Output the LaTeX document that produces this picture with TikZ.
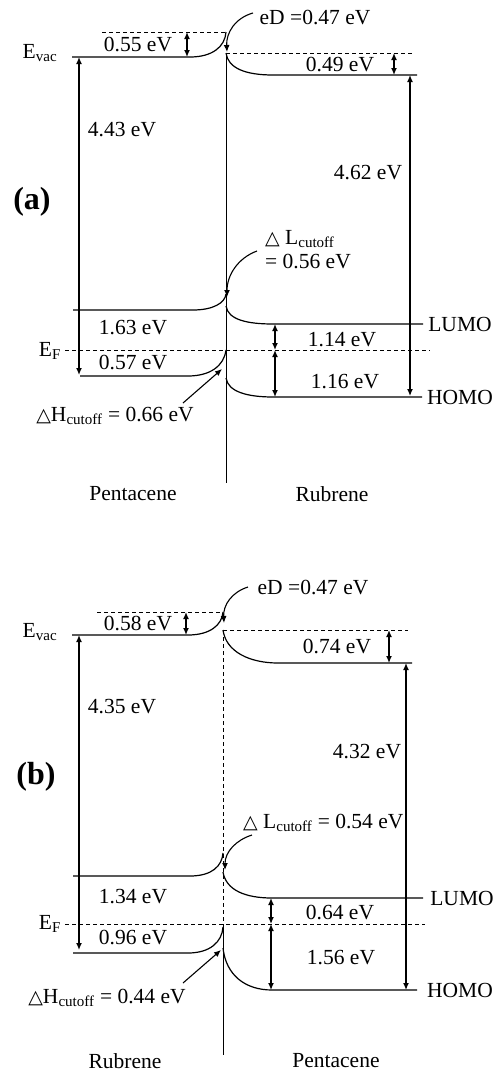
\documentclass[tikz,border=0pt]{standalone}
\usepackage{fontspec}
\setmainfont{Liberation Serif}
\newfontfamily\symfont{DejaVu Sans}
\usetikzlibrary{arrows.meta}
\newcommand{\tri}{{\symfont\fontsize{19}{21}\selectfont △}}
\begin{document}
\begin{tikzpicture}[x=1pt,y=-1pt,
  lbl/.style={font=\fontsize{21.5}{25}\selectfont, inner sep=0pt},
  band/.style={line width=1.2pt},
  ref/.style={line width=1pt, dash pattern=on 4pt off 3pt},
  iface/.style={line width=1pt},
  dbl/.style={line width=1.3pt, {Latex[length=7pt,width=6pt]}-{Latex[length=7pt,width=6pt]}},
  ptr/.style={line width=1.1pt, -{Latex[length=7pt,width=6pt]}},
  panel/.style={font=\fontsize{32}{36}\selectfont\bfseries, inner sep=0pt}]
\useasboundingbox (0,0) rectangle (493,1074);

% ================= panel (a) =================
\node[panel] (pa) at (32,202) {(a)};
% vacuum levels
\draw[ref] (102,32) -- (226,32);
\draw[band] (72,57) -- (190,57) .. controls (212,57) and (225,47) .. (226,32);
\draw[iface] (226,53) -- (226,483);
\draw[ref] (226,53) -- (413,53);
\draw[band] (226,53) .. controls (228,68) and (245,75) .. (273,75) -- (417,75);
\draw[dbl] (187,32) -- (187,57);
\draw[dbl] (394,53) -- (394,75);
\draw[dbl] (79,57) -- (79,375);
\draw[dbl] (410,75) -- (410,396);
% LUMO / HOMO
\draw[band] (73,310) -- (193,310) .. controls (213,310) and (225,303) .. (226,294);
\draw[band] (226,306) .. controls (228,320) and (248,324) .. (273,324) -- (423,324);
\draw[ref] (65,350) -- (430,350);
\draw[band] (80,376) -- (188,376) .. controls (210,376) and (224,366) .. (226,350);
\draw[band] (226,378) .. controls (228,392) and (248,397) .. (273,397) -- (422,397);
\draw[dbl] (275,324) -- (275,350);
\draw[dbl] (275,350) -- (275,397);
% labels
\node[lbl, anchor=base] (evacA) at (40,58.5) {E\textsubscript{vac}};
\node[lbl] (a055) at (138,45) {0.55 eV};
\node[lbl] (a049) at (340,65) {0.49 eV};
\node[lbl] (a443) at (122,130) {4.43 eV};
\node[lbl] (a462) at (368,173) {4.62 eV};
\node[lbl] (aeD) at (315,18) {eD =0.47 eV};
\node[lbl] (a163) at (133,328) {1.63 eV};
\node[lbl] (a057) at (133,363) {0.57 eV};
\node[lbl] (a114) at (342,340) {1.14 eV};
\node[lbl] (a116) at (345,382) {1.16 eV};
\node[lbl] (aL) at (460,324) {LUMO};
\node[lbl] (aH) at (460,397) {HOMO};
\node[lbl, anchor=base] (efA) at (50,356) {E\textsubscript{F}};
\node[lbl, anchor=base west] (aDL1) at (265,244) {\tri\ L\textsubscript{cutoff}};
\node[lbl, anchor=west] (aDL2) at (265,262) {= 0.56 eV};
\node[lbl, anchor=base] (aDH) at (115,421) {\tri H\textsubscript{cutoff} = 0.66 eV};
\node[lbl] (aP) at (133,494) {Pentacene};
\node[lbl] (aR) at (332,494) {Rubrene};
% pointers
\coordinate (aeDs) at (253,13);
\coordinate (aeDt) at (227,52);
\draw[ptr] (aeDs) .. controls (235,18) and (226,33) .. (aeDt);
\coordinate (aDLs) at (257,251);
\coordinate (aDLt) at (227,297);
\draw[ptr] (aDLs) .. controls (238,258) and (227,275) .. (aDLt);
\coordinate (aDHs) at (183,403);
\coordinate (aDHt) at (222,369);
\draw[ptr] (aDHs) -- (aDHt);

% ================= panel (b) =================
\node[panel] (pb) at (36,777) {(b)};
\draw[ref] (97,612) -- (223,612);
\draw[band] (72,635) -- (188,635) .. controls (210,635) and (222,625) .. (223,612);
\draw[iface, dash pattern=on 4pt off 3pt] (223,630) -- (223,924);
\draw[iface] (223,924) -- (223,1055);
\draw[ref] (223,630) -- (408,630);
\draw[band] (223,630) .. controls (226,652) and (250,663) .. (278,663) -- (412,663);
\draw[dbl] (186,612) -- (186,635);
\draw[dbl] (389,630) -- (389,663);
\draw[dbl] (79,635) -- (79,950);
\draw[dbl] (406,663) -- (406,990);
\draw[band] (73,876) -- (190,876) .. controls (212,876) and (222,866) .. (223,853);
\draw[band] (223,872) .. controls (226,890) and (245,898) .. (272,898) -- (423,898);
\draw[ref] (65,924) -- (425,924);
\draw[band] (73,953) -- (188,953) .. controls (210,953) and (222,942) .. (223,927);
\draw[band] (223,948) .. controls (226,975) and (245,990) .. (272,990) -- (417,990);
\draw[dbl] (271,898) -- (271,924);
\draw[dbl] (271,924) -- (271,990);
% labels
\node[lbl, anchor=base] (evacB) at (40,637) {E\textsubscript{vac}};
\node[lbl] (b058) at (138,624) {0.58 eV};
\node[lbl] (b435) at (122,707) {4.35 eV};
\node[lbl] (beD) at (313,588) {eD =0.47 eV};
\node[lbl] (b074) at (337,647) {0.74 eV};
\node[lbl] (b432) at (367,752) {4.32 eV};
\node[lbl, anchor=base west] (bDL) at (243,828) {\tri\ L\textsubscript{cutoff} = 0.54 eV};
\node[lbl] (b134) at (133,897) {1.34 eV};
\node[lbl, anchor=base] (efB) at (50,929) {E\textsubscript{F}};
\node[lbl] (b096) at (133,938) {0.96 eV};
\node[lbl, anchor=base] (bDH) at (107,1003) {\tri H\textsubscript{cutoff} = 0.44 eV};
\node[lbl] (bL) at (462,898) {LUMO};
\node[lbl] (bH) at (460,990) {HOMO};
\node[lbl] (b064) at (340,913) {0.64 eV};
\node[lbl] (b156) at (341,958) {1.56 eV};
\node[lbl] (bR) at (125,1061) {Rubrene};
\node[lbl] (bP) at (336,1061) {Pentacene};
% pointers
\coordinate (beDs) at (248,587);
\coordinate (beDt) at (224,623);
\draw[ptr] (beDs) .. controls (232,592) and (223,605) .. (beDt);
\coordinate (bDLs) at (252,835);
\coordinate (bDLt) at (225,870);
\draw[ptr] (bDLs) .. controls (236,840) and (225,852) .. (bDLt);
\coordinate (bDHs) at (183,983);
\coordinate (bDHt) at (221,950);
\draw[ptr] (bDHs) -- (bDHt);
\end{tikzpicture}
\end{document}
